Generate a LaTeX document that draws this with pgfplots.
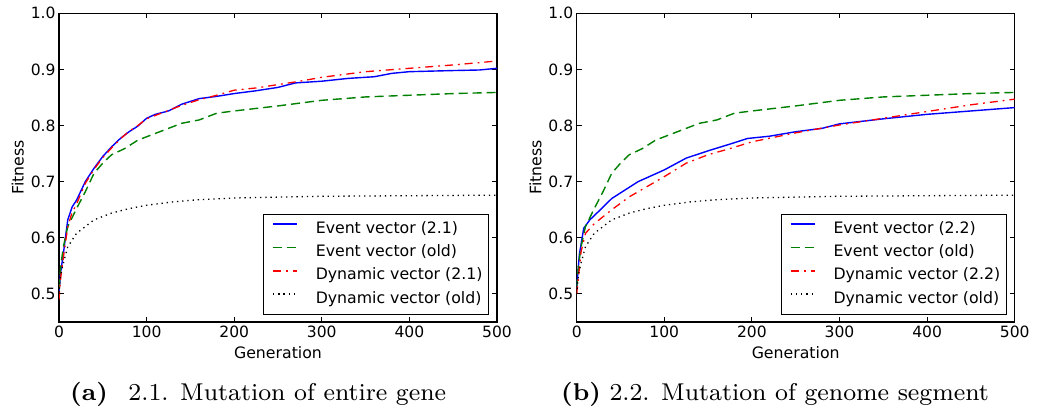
\documentclass[border=0pt]{standalone}
\usepackage{graphicx}
\usepackage{pgfplots}
\pgfplotsset{compat=1.18}
\usepackage{fontspec}
\newfontfamily\djv{DejaVu Sans}
\definecolor{mplgreen}{rgb}{0,0.5,0}
\definecolor{mplblue}{rgb}{0,0,1}
\definecolor{mplred}{rgb}{1,0,0}

\pgfplotstableread{
x y
0 0.505
2 0.54
5 0.572
10 0.632
15 0.655
20 0.667
30 0.700
40 0.724
50 0.745
60 0.762
70 0.777
80 0.789
90 0.799
100 0.813
110 0.820
125 0.826
140 0.838
160 0.848
180 0.852
200 0.857
225 0.862
250 0.868
270 0.876
300 0.879
330 0.884
360 0.887
380 0.893
400 0.896
450 0.898
480 0.899
500 0.902
}\evA

\pgfplotstableread{
x y
0 0.49
2 0.53
5 0.565
10 0.620
15 0.645
20 0.660
30 0.697
40 0.722
50 0.743
60 0.760
70 0.776
80 0.790
90 0.800
100 0.812
110 0.818
125 0.827
140 0.836
160 0.846
180 0.854
200 0.863
225 0.867
250 0.873
275 0.879
300 0.886
350 0.896
400 0.902
450 0.908
500 0.915
}\dyA

\pgfplotstableread{
x y
0 0.51
2 0.55
5 0.584
10 0.620
20 0.652
30 0.682
40 0.715
50 0.733
60 0.748
75 0.759
90 0.774
100 0.780
120 0.792
140 0.804
160 0.810
180 0.822
200 0.826
250 0.835
300 0.845
350 0.851
400 0.854
450 0.857
500 0.859
}\evOld

\pgfplotstableread{
x y
0 0.50
2 0.535
5 0.555
10 0.584
20 0.608
40 0.632
60 0.644
80 0.652
100 0.658
130 0.664
160 0.668
200 0.671
300 0.674
400 0.675
500 0.676
}\dyOld

\pgfplotstableread{
x y
0 0.51
3 0.57
8 0.617
15 0.632
25 0.647
40 0.670
50 0.680
70 0.700
100 0.721
125 0.742
150 0.755
175 0.767
195 0.777
220 0.781
250 0.789
280 0.795
300 0.803
350 0.812
400 0.820
450 0.826
500 0.832
}\evB

\pgfplotstableread{
x y
0 0.50
5 0.575
10 0.608
20 0.625
40 0.650
60 0.673
80 0.691
100 0.709
125 0.733
150 0.748
175 0.759
200 0.771
250 0.787
300 0.801
350 0.813
400 0.825
450 0.837
500 0.847
}\dyB

\pgfplotsset{
  myaxis/.style={
    anchor=south west, scale only axis,
    width=438bp, height=308.7bp,
    xmin=0, xmax=500, ymin=0.45, ymax=1.0,
    xtick={0,100,...,500},
    ytick={0.5,0.6,0.7,0.8,0.9,1.0},
    yticklabel style={/pgf/number format/.cd, fixed, fixed zerofill, precision=1},
    /pgf/number format/assume math mode=true,
    tick label style={font=\djv\fontsize{15.6}{17}\selectfont},
    label style={font=\djv\fontsize{15.8}{17}\selectfont},
    tick align=inside, major tick length=5bp,
    axis line style={line width=1.1bp},
    every tick/.style={black, line width=0.9bp},
    xlabel={Generation}, ylabel={Fitness},
    xlabel style={at={(axis description cs:0.5,-0.1)}, anchor=center},
    ylabel style={at={(axis description cs:-0.094,0.5)}, anchor=center},
    legend cell align=left,
    legend style={at={(axis description cs:0.981,0.026)}, anchor=south east,
      draw=black, font=\djv\fontsize{15.8}{17}\selectfont,
      row sep=7.4bp, inner xsep=6bp, inner ysep=6.5bp,
      nodes={inner sep=0pt, text height=12bp, text depth=4bp},
      /tikz/every odd column/.append style={column sep=18bp}},
    legend image code/.code={\path[draw=none,fill=none] (0bp,0bp) rectangle (28bp,5bp);
      \draw[##1, line width=1.6bp] (4bp,5bp) -- (28bp,5bp);},
  },
}

\begin{document}
\begin{tikzpicture}
\path[use as bounding box] (0,0) rectangle (1037bp,411bp);
\begin{axis}[myaxis, at={(59bp,89bp)}]
\addplot[color=mplblue, solid, line width=1.4bp] table {\evA};
\addlegendentry{Event vector (2.1)}
\addplot[color=mplgreen, line width=1.4bp, dash pattern=on 9bp off 5bp] table {\evOld};
\addlegendentry{Event vector (old)}
\addplot[color=mplred, line width=1.3bp, dash pattern=on 8bp off 5bp on 1.8bp off 5bp] table {\dyA};
\addlegendentry{Dynamic vector (2.1)}
\addplot[color=black, line width=1.3bp, dash pattern=on 1.3bp off 3.9bp] table {\dyOld};
\addlegendentry{Dynamic vector (old)}
\end{axis}
\begin{axis}[myaxis, at={(576.7bp,89bp)}]
\addplot[color=mplblue, solid, line width=1.4bp] table {\evB};
\addlegendentry{Event vector (2.2)}
\addplot[color=mplgreen, line width=1.4bp, dash pattern=on 9bp off 5bp] table {\evOld};
\addlegendentry{Event vector (old)}
\addplot[color=mplred, line width=1.3bp, dash pattern=on 8bp off 5bp on 1.8bp off 5bp] table {\dyB};
\addlegendentry{Dynamic vector (2.2)}
\addplot[color=black, line width=1.3bp, dash pattern=on 1.3bp off 3.9bp] table {\dyOld};
\addlegendentry{Dynamic vector (old)}
\end{axis}
\node[anchor=base west, inner sep=0pt] at (70bp,11bp) {\scalebox{3.05}{\fontsize{8}{9.6}\selectfont\textbf{(a)}\hspace{0.85em}2.1. Mutation of entire gene}};
\node[anchor=base west, inner sep=0pt] at (561bp,11bp) {\scalebox{3.05}{\fontsize{8}{9.6}\selectfont\textbf{(b)} 2.2. Mutation of genome segment}};
\end{tikzpicture}
\end{document}
